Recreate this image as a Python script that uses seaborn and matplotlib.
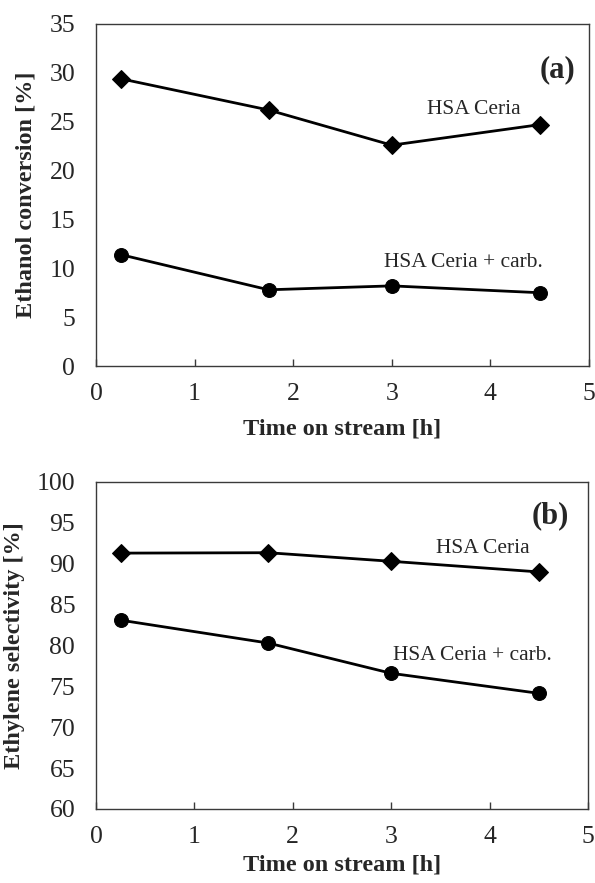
import matplotlib
matplotlib.use("Agg")
import matplotlib.pyplot as plt
import seaborn as sns
import pandas as pd

sns.set_theme(style="white")
plt.rcParams['font.family'] = ['Liberation Serif', 'DejaVu Serif']

time_h = [0.25, 1.75, 3.0, 4.5]
conv_ceria = [29.4, 26.2, 22.6, 24.7]
conv_carb = [11.4, 7.8, 8.2, 7.5]
sel_ceria = [91.3, 91.35, 90.3, 89.0]
sel_carb = [83.1, 80.3, 76.6, 74.15]

df = pd.DataFrame({
    "t": time_h * 4,
    "val": conv_ceria + conv_carb + sel_ceria + sel_carb,
    "series": ["ceria"] * 4 + ["carb"] * 4 + ["ceria"] * 4 + ["carb"] * 4,
    "panel": ["a"] * 8 + ["b"] * 8,
})

fig = plt.figure(figsize=(5.95, 8.83), dpi=100)
ax1 = fig.add_axes([96/595, 1-366/883, (589-96)/595, (366-24)/883])
ax2 = fig.add_axes([96/595, 1-809/883, (588-96)/595, (809-482)/883])

def draw(ax, panel, xpad):
    d = df[df.panel == panel]
    sns.lineplot(data=d[d.series == "ceria"], x="t", y="val", ax=ax, color="black",
                 marker="D", markersize=9, linewidth=2, markeredgecolor="black")
    sns.lineplot(data=d[d.series == "carb"], x="t", y="val", ax=ax, color="black",
                 marker="o", markersize=10, linewidth=2, markeredgecolor="black")
    ax.set_xlim(0, 5)
    ax.set_xticks([0, 1, 2, 3, 4, 5])
    for s in ax.spines.values():
        s.set_color("#3a3a3a")
        s.set_linewidth(1.0)
    ax.tick_params(axis="x", direction="in", length=5, width=1, color="#3a3a3a",
                   labelsize=18.5, pad=12, bottom=True)
    ax.tick_params(axis="y", length=0, labelsize=18.5, pad=15)
    ax.set_xlabel("Time on stream [h]", fontsize=17.5, fontweight="bold", labelpad=xpad)

draw(ax1, "a", 10)
ax1.set_ylim(0, 35)
ax1.set_yticks(range(0, 36, 5))
ax1.set_ylabel("Ethanol conversion [%]", fontsize=17.5, fontweight="bold", labelpad=9)
ax1.text(4.68, 30.3, "(a)", fontsize=22, fontweight="bold", ha="center", va="center")
ax1.text(3.83, 26.2, "HSA Ceria", fontsize=15.5, ha="center", va="center")
ax1.text(3.73, 10.6, "HSA Ceria + carb.", fontsize=15.5, ha="center", va="center")

draw(ax2, "b", 5)
ax2.set_ylim(60, 100)
ax2.set_yticks(range(60, 101, 5))
ax2.set_ylabel("Ethylene selectivity [%]", fontsize=17.5, fontweight="bold", labelpad=8)
ax2.text(4.62, 95.9, "(b)", fontsize=22, fontweight="bold", ha="center", va="center")
ax2.text(3.93, 91.9, "HSA Ceria", fontsize=15.5, ha="center", va="center")
ax2.text(3.83, 78.8, "HSA Ceria + carb.", fontsize=15.5, ha="center", va="center")

fig.savefig("out.png", dpi=100)
